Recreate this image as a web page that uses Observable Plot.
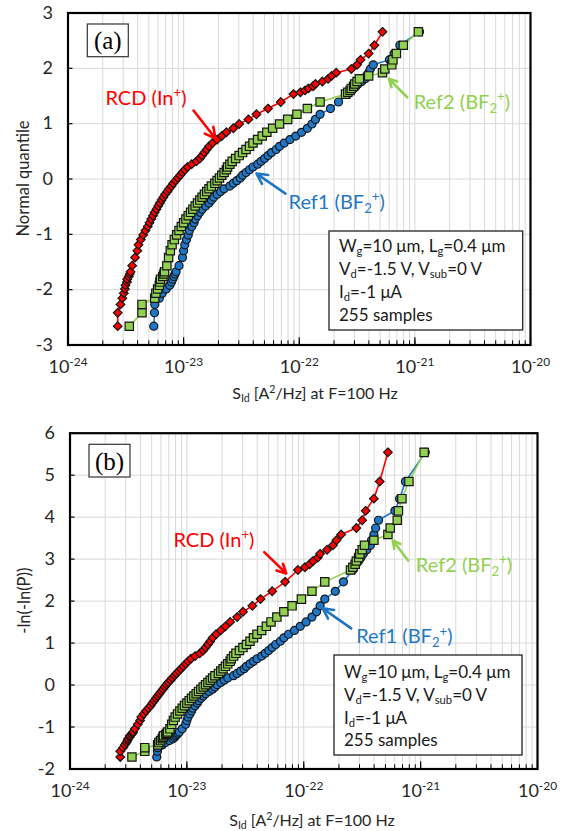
<!DOCTYPE html>
<html><head><meta charset="utf-8">
<script src="https://cdn.jsdelivr.net/npm/d3@7"></script>
<script src="https://cdn.jsdelivr.net/npm/@observablehq/plot@0.6"></script>
<style>
body{margin:0;background:#fff;}
#chart{width:566px;}
#chart svg{display:block;}
</style></head><body><div id="chart"></div>
<script>
// ---- data ----
const nSamples = 255;
const ranks = [1,2,3,4,5,6,7,8,9,10,11,12,15,20,25,30,35,40,45,50,55,60,65,70,75,80,85,90,95,100,105,110,115,120,125,130,135,140,145,150,155,160,165,170,175,180,185,190,195,200,205,210,215,220,225,230,235,240,241,242,243,244,245,246,247,248,249,250,251,252,253,254,255];
// log10 of S_Id [A^2/Hz] at each rank
const rcdLogS = [-23.57,-23.57,-23.546,-23.53,-23.517,-23.508,-23.503,-23.49,-23.488,-23.474,-23.466,-23.459,
 -23.445,-23.42,-23.40,-23.39,-23.37,-23.35,-23.33,-23.31,-23.295,-23.28,
 -23.265,-23.25,-23.235,-23.22,-23.205,-23.19,-23.175,-23.16,-23.14,-23.125,
 -23.105,-23.09,-23.07,-23.05,-23.03,-23.01,-22.99,-22.965,-22.93,-22.89,
 -22.86,-22.84,-22.82,-22.80,-22.78,-22.75,-22.71,-22.67,-22.63,-22.57,
 -22.52,-22.44,-22.37,-22.27,-22.16,-22.05,
 -21.99,-21.95,-21.92,-21.88,-21.86,-21.80,-21.75,-21.72,-21.68,-21.55,-21.50,-21.47,-21.40,-21.35,-21.28];
const ref1LogS = [-23.258,-23.252,-23.249,-23.21,-23.185,-23.15,-23.12,-23.105,-23.095,-23.085,-23.075,-23.065,
 -23.04,-23.01,-23.0,-22.99,-22.975,-22.96,-22.95,-22.93,-22.91,-22.9,
 -22.88,-22.86,-22.84,-22.81,-22.78,-22.76,-22.74,-22.71,-22.68,-22.65,
 -22.6,-22.57,-22.54,-22.51,-22.49,-22.46,-22.43,-22.40,-22.36,-22.33,
 -22.30,-22.27,-22.24,-22.20,-22.17,-22.13,-22.08,-22.03,-21.98,-21.93,
 -21.89,-21.86,-21.82,-21.73,-21.66,-21.58,
 -21.57,-21.555,-21.53,-21.51,-21.49,-21.46,-21.43,-21.42,-21.40,-21.385,-21.36,-21.22,-21.18,-21.13,-20.96];
const ref2LogS = [-23.47,-23.36,-23.36,-23.25,-23.24,-23.225,-23.21,-23.205,-23.2,-23.18,-23.17,-23.165,
 -23.145,-23.13,-23.115,-23.1,-23.08,-23.06,-23.04,-23.02,-23.0,-22.98,
 -22.96,-22.94,-22.92,-22.9,-22.88,-22.86,-22.84,-22.82,-22.8,-22.78,
 -22.76,-22.73,-22.71,-22.69,-22.67,-22.65,-22.63,-22.62,-22.6,-22.58,
 -22.55,-22.52,-22.49,-22.46,-22.43,-22.40,-22.36,-22.32,-22.28,-22.23,
 -22.17,-22.1,-22.02,-21.93,-21.82,-21.6,
 -21.58,-21.56,-21.55,-21.53,-21.52,-21.50,-21.48,-21.40,-21.28,-21.26,-21.20,-21.19,-21.16,-21.10,-20.97];
const seriesNames = ["RCD (In^{+})", "Ref1 (BF_{2}^{+})", "Ref2 (BF_{2}^{+})"];
const xTickValues = [1e-24, 1e-23, 1e-22, 1e-21, 1e-20];
const xTickLabels = ["10^{-24}", "10^{-23}", "10^{-22}", "10^{-21}", "10^{-20}"];
const yTicksA = [-3, -2, -1, 0, 1, 2, 3];
const yTicksB = [-2, -1, 0, 1, 2, 3, 4, 5, 6];
const infoLines = ["W_{g}=10 \u03bcm, L_{g}=0.4 \u03bcm", "V_{d}=-1.5 V, V_{sub}=0 V", "I_{d}=-1 \u03bcA", "255 samples"];

const C = {rcd: "#ff0000", ref1: "#1f77c8", ref2: "#92d050", ref1Text: "#1f77c4", ref2Text: "#92d050"};

// inverse standard normal CDF (Acklam)
function invNorm(p) {
  const a=[-3.969683028665376e+01,2.209460984245205e+02,-2.759285104469687e+02,1.383577518672690e+02,-3.066479806614716e+01,2.506628277459239e+00];
  const b=[-5.447609879822406e+01,1.615858368580409e+02,-1.556989798598866e+02,6.680131188771972e+01,-1.328068155288572e+01];
  const c=[-7.784894002430293e-03,-3.223964580411365e-01,-2.400758277161838e+00,-2.549732539343734e+00,4.374664141464968e+00,2.938163982698783e+00];
  const d=[7.784695709041462e-03,3.224671290700398e-01,2.445134137142996e+00,3.754408661907416e+00];
  const pl=0.02425;
  if (p < pl) { const q=Math.sqrt(-2*Math.log(p)); return (((((c[0]*q+c[1])*q+c[2])*q+c[3])*q+c[4])*q+c[5])/((((d[0]*q+d[1])*q+d[2])*q+d[3])*q+1); }
  if (p <= 1-pl) { const q=p-0.5, r=q*q; return (((((a[0]*r+a[1])*r+a[2])*r+a[3])*r+a[4])*r+a[5])*q/(((((b[0]*r+b[1])*r+b[2])*r+b[3])*r+b[4])*r+1); }
  const q=Math.sqrt(-2*Math.log(1-p)); return -(((((c[0]*q+c[1])*q+c[2])*q+c[3])*q+c[4])*q+c[5])/((((d[0]*q+d[1])*q+d[2])*q+d[3])*q+1);
}
function rows(logS) {
  return ranks.map((r, i) => {
    const P = r / (nSamples + 1);
    return {S: Math.pow(10, logS[i]), q: invNorm(P), g: -Math.log(-Math.log(P))};
  });
}
const rcd = rows(rcdLogS), ref1 = rows(ref1LogS), ref2 = rows(ref2LogS);
const minorTicks = d3.scaleLog().domain([1e-24, 1e-20]).ticks();

function panel(cfg) {
  const yk = cfg.key, y0 = cfg.yDomain[0];
  const series = (data, color, symbol, r) => [
    Plot.line(data, {x: "S", y: yk, stroke: color, strokeWidth: 1.6}),
    Plot.dot(data, {x: "S", y: yk, symbol, r, fill: color, stroke: "#141414", strokeWidth: 1.2})
  ];
  const L = cfg.labels;
  const txt = (l, color) => Plot.text([l], {x: d => Math.pow(10, d.x), y: "y", text: "t", fill: color, textAnchor: "start", fontSize: 20, fontFamily: "Lato, sans-serif"});
  const arr = (a, color) => Plot.arrow([a], {x1: d => Math.pow(10, d.x1), y1: "y1", x2: d => Math.pow(10, d.x2), y2: "y2", stroke: color, strokeWidth: 2.6, headLength: 10, headAngle: 55});
  return Plot.plot({
    width: 566, height: cfg.height,
    marginTop: cfg.mt, marginBottom: cfg.mb, marginLeft: cfg.ml, marginRight: cfg.mr,
    style: {fontFamily: "Lato, sans-serif", fontSize: "18px", color: "#262626", background: "white", overflow: "visible"},
    x: {type: "log", domain: [1e-24, 1e-20], label: null},
    y: {domain: cfg.yDomain, label: null},
    marks: [
      Plot.ruleX(minorTicks, {stroke: "#d9d9d9", strokeWidth: 1}),
      Plot.ruleY(cfg.yTicks, {stroke: "#d9d9d9", strokeWidth: 1}),
      Plot.ruleX(minorTicks, {y1: y0, y2: y0 + cfg.minorLen, stroke: "#000", strokeWidth: 1}),
      Plot.ruleX(xTickValues, {y1: y0, y2: y0 + cfg.majorLen, stroke: "#000", strokeWidth: 1.2}),
      Plot.ruleY(cfg.yTicks, {x1: 1e-24, x2: 1e-24 * Math.pow(10, cfg.yTickDec), stroke: "#000", strokeWidth: 1.2}),
      ...series(ref1, C.ref1, "circle", 4),
      ...series(ref2, C.ref2, "square", 4.7),
      ...series(rcd, C.rcd, "diamond2", 3.9),
      Plot.frame({stroke: "#000", strokeWidth: 2.2}),
      Plot.axisX(xTickValues, {tickSize: 0, tickPadding: 15, label: null, fontSize: 18,
        tickFormat: d => xTickLabels[xTickValues.indexOf(d)]}),
      Plot.axisY(cfg.yTicks, {tickSize: 0, tickPadding: 15, label: null, fontSize: 18, tickFormat: d => String(d)}),
      txt(L.rcd, C.rcd), txt(L.ref1, C.ref1Text), txt(L.ref2, C.ref2Text),
      arr(L.rcdA, C.rcd), arr(L.ref1A, C.ref1Text), arr(L.ref2A, C.ref2Text)
    ]
  });
}

const figA = panel({
  key: "q", yDomain: [-3, 3], yTicks: yTicksA, height: 410, mt: 12.5, mb: 65.5, ml: 67.5, mr: 36,
  minorLen: 0.075, majorLen: 0.13, yTickDec: 5 / 115.6,
  labels: {
    rcd: {x: -23.676, y: 1.455, t: seriesNames[0]},
    ref1: {x: -22.093, y: -0.421, t: seriesNames[1]},
    ref2: {x: -21.01, y: 1.387, t: seriesNames[2]},
    rcdA: {x1: -22.914, y1: 1.237, x2: -22.724, y2: 0.731},
    ref1A: {x1: -22.119, y1: -0.264, x2: -22.37, y2: 0.098},
    ref2A: {x1: -21.066, y1: 1.477, x2: -21.225, y2: 1.81}
  }
});
const figB = panel({
  key: "g", yDomain: [-2, 6], yTicks: yTicksB, height: 421, mt: 22.7, mb: 62.5, ml: 69.5, mr: 29,
  minorLen: 0.1, majorLen: 0.17, yTickDec: 5 / 117,
  labels: {
    rcd: {x: -23.115, y: 3.445, t: seriesNames[0]},
    ref1: {x: -21.551, y: 1.143, t: seriesNames[1]},
    ref2: {x: -21.041, y: 2.85, t: seriesNames[2]},
    rcdA: {x1: -22.338, y1: 3.167, x2: -22.15, y2: 2.66},
    ref1A: {x1: -21.594, y1: 1.35, x2: -21.838, y2: 1.826},
    ref2A: {x1: -21.107, y1: 2.969, x2: -21.238, y2: 3.445}
  }
});
const root = document.getElementById("chart");
root.appendChild(figA);
root.appendChild(figB);

// ---- decorations (pixel layout) ----
function deco(svg, o) {
  const s = d3.select(svg);
  s.append("rect").attr("x", o.tag[0]).attr("y", o.tag[1]).attr("width", 41).attr("height", 32.7)
    .attr("fill", "white").attr("stroke", "#333").attr("stroke-width", 1.2);
  s.append("text").attr("x", o.tag[0] + 20.5).attr("y", o.tag[1] + 16.5).attr("dy", "0.35em")
    .attr("text-anchor", "middle").attr("font-family", "'Liberation Serif', serif").attr("font-size", 25)
    .attr("fill", "#000").text(o.tagText);
  const [bx0, by0, bx1, by1] = o.box;
  s.append("rect").attr("x", bx0).attr("y", by0).attr("width", bx1 - bx0).attr("height", by1 - by0)
    .attr("fill", "white").attr("stroke", "#222").attr("stroke-width", 1.3);
  infoLines.forEach((t, i) => s.append("text").attr("x", bx0 + 10).attr("y", o.lineY[i]).attr("dy", "0.35em")
    .attr("text-anchor", "start")
    .attr("font-family", "Lato, sans-serif").attr("font-size", 17).attr("fill", "#1a1a1a").text(t));
  s.append("text").attr("x", o.xt[0]).attr("y", o.xt[1]).attr("dy", "0.35em").attr("text-anchor", "middle")
    .attr("font-family", "Lato, sans-serif").attr("font-size", 16).attr("fill", "#262626").text("S_{Id} [A^{2}/Hz] at F=100 Hz");
  s.append("text").attr("transform", `translate(${o.yt[0]},${o.yt[1]}) rotate(-90)`).attr("dy", "0.35em")
    .attr("text-anchor", "middle").attr("font-family", "Lato, sans-serif").attr("font-size", 16.5)
    .attr("fill", "#262626").text(o.ytText);
}
deco(figA, {tag: [87.3, 24], tagText: "(a)", box: [329, 231, 522.7, 330], lineY: [246, 269, 292, 315],
  xt: [315, 393], yt: [23, 178.5], ytText: "Normal quantile"});
deco(figB, {tag: [89, 34.3], tagText: "(b)", box: [334, 245, 522, 345], lineY: [262, 285, 308, 330],
  xt: [312, 410], yt: [24, 190.7], ytText: "-ln(-ln(P))"});

// ---- rich text: ^{..} superscript, _{..} subscript ----
function rich(el) {
  const s = el.textContent;
  if (!/[\^_]\{/.test(s)) return;
  const base = parseFloat(getComputedStyle(el).fontSize) || 16;
  const parts = [], re = /([\^_])\{([^}]*)\}/g;
  let last = 0, m;
  while ((m = re.exec(s))) {
    if (m.index > last) parts.push({t: s.slice(last, m.index), k: 0});
    parts.push({t: m[2], k: m[1] === "^" ? 1 : -1});
    last = re.lastIndex;
  }
  if (last < s.length) parts.push({t: s.slice(last), k: 0});
  while (el.firstChild) el.removeChild(el.firstChild);
  let cur = 0;
  for (const p of parts) {
    const ts = document.createElementNS("http://www.w3.org/2000/svg", "tspan");
    const target = p.k > 0 ? -base * 0.38 : p.k < 0 ? base * 0.2 : 0;
    if (target !== cur) ts.setAttribute("dy", (target - cur).toFixed(2));
    cur = target;
    if (p.k) ts.setAttribute("font-size", (base * 0.66).toFixed(1));
    ts.textContent = p.t;
    el.appendChild(ts);
  }
}
document.querySelectorAll("#chart text").forEach(rich);
</script>
</body></html>
